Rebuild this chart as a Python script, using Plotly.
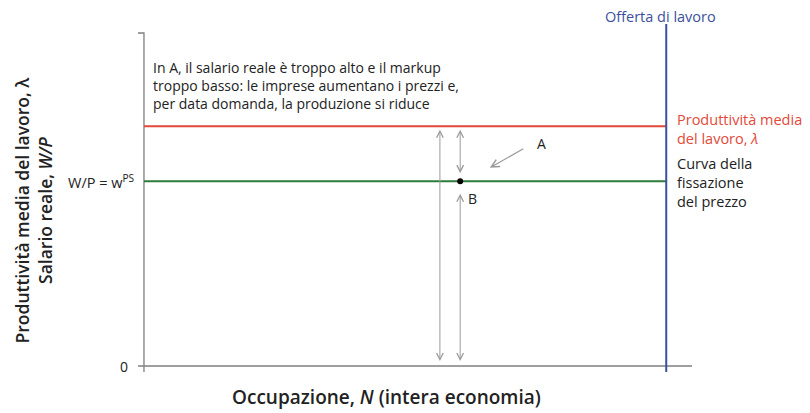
import plotly.graph_objects as go

# Livelli (unità arbitrarie del grafico)
lambda_level = 7.2      # produttività media del lavoro
wps_level = 5.55        # salario reale di fissazione del prezzo
labour_supply = 9.53    # offerta di lavoro (verticale)
n_top = 10.27           # estremo superiore della retta di offerta
y_axis_top = 10.0
x_axis_end = 10.0

# Punto B e frecce
point_b = (5.77, wps_level)
arrow_long_x = 5.40
arrow_a_tail = (6.95, 6.55)
arrow_a_tip = (6.31, 5.95)

RED = "#e2493a"
GREEN = "#2e7b3c"
BLUE = "#3b4f9e"
GREY = "#9a9a9a"
AXIS = "#7f7f7f"
FONT = "Open Sans"

fig = go.Figure()

# assi disegnati come linee
fig.add_trace(go.Scatter(x=[0, 0, -0.11], y=[-0.18, y_axis_top, y_axis_top], mode="lines",
                         line=dict(color=AXIS, width=1.3), hoverinfo="skip"))
fig.add_trace(go.Scatter(x=[-0.11, x_axis_end], y=[0, 0], mode="lines",
                         line=dict(color=AXIS, width=1.3), hoverinfo="skip"))

# curve
fig.add_trace(go.Scatter(x=[0, labour_supply], y=[lambda_level, lambda_level], mode="lines",
                         line=dict(color=RED, width=2), hoverinfo="skip"))
fig.add_trace(go.Scatter(x=[0, labour_supply], y=[wps_level, wps_level], mode="lines",
                         line=dict(color=GREEN, width=2), hoverinfo="skip"))
fig.add_trace(go.Scatter(x=[labour_supply, labour_supply], y=[-0.18, n_top], mode="lines",
                         line=dict(color=BLUE, width=2), hoverinfo="skip"))
fig.add_trace(go.Scatter(x=[point_b[0]], y=[point_b[1]], mode="markers",
                         marker=dict(color="black", size=6), hoverinfo="skip"))

annotations = []


def double_arrow(x, y0, y1, s0, s1):
    annotations.append(dict(x=x, y=y0, ax=x, ay=y1, xref="x", yref="y", axref="x", ayref="y",
                            text="", showarrow=True, arrowhead=5, arrowside="end+start",
                            arrowsize=1.3, arrowwidth=1, arrowcolor=GREY,
                            standoff=s0, startstandoff=s1))


double_arrow(arrow_long_x, 0, lambda_level, 5, 2)
double_arrow(point_b[0], wps_level, lambda_level, 8, 2)
double_arrow(point_b[0], 0, wps_level, 5, 11)

annotations.append(dict(x=arrow_a_tip[0], y=arrow_a_tip[1], ax=arrow_a_tail[0], ay=arrow_a_tail[1],
                        xref="x", yref="y", axref="x", ayref="y", text="", showarrow=True,
                        arrowhead=5, arrowsize=1.3, arrowwidth=1.2, arrowcolor=GREY))

base = dict(showarrow=False, xref="x", yref="y")
annotations += [
    dict(base, x=7.26, y=6.67, text="A", font=dict(family=FONT, size=14, color="#222")),
    dict(base, x=6.0, y=5.04, text="B", font=dict(family=FONT, size=14, color="#222")),
    dict(base, x=0.12, y=9.3, xanchor="left", yanchor="top", align="left",
         text="In A, il salario reale è troppo alto e il markup<br>"
              "troppo basso: le imprese aumentano i prezzi e,<br>"
              "per data domanda, la produzione si riduce",
         font=dict(family=FONT, size=14, color="#222")),
    dict(base, x=9.43, y=10.5, text="Offerta di lavoro",
         font=dict(family=FONT, size=14.5, color=BLUE)),
    dict(base, x=9.69, y=7.75, xanchor="left", yanchor="top", align="left",
         text="Produttività media<br>del lavoro, <i>λ</i>",
         font=dict(family=FONT, size=14.5, color=RED)),
    dict(base, x=9.69, y=6.43, xanchor="left", yanchor="top", align="left",
         text="Curva della<br>fissazione<br>del prezzo",
         font=dict(family=FONT, size=14.5, color="#222")),
    dict(base, x=-0.12, y=wps_level, xanchor="right", text="W/P = w<sup>PS</sup>",
         font=dict(family=FONT, size=14.5, color="#222")),
    dict(base, x=-0.2, y=0, xanchor="right", xshift=-3, text="0",
         font=dict(family=FONT, size=14, color="#222")),
    dict(showarrow=False, xref="x", yref="paper", x=4.42, y=-0.052, yanchor="middle",
         text="Occupazione, <i>N</i> (intera economia)",
         font=dict(family=FONT, size=19, color="#222", weight=600)),
    dict(showarrow=False, xref="paper", yref="paper", x=-0.169, y=0.457, textangle=-90,
         xanchor="center", yanchor="middle",
         text="Produttività media del lavoro, λ<br>Salario reale, <i>W/P</i>",
         font=dict(family=FONT, size=17.5, color="#222", weight=600)),
]

# la pagina aggiunge 8px di margine: figura 802x405
fig.update_layout(
    width=802, height=405,
    margin=dict(l=122, r=110, t=2, b=35),
    plot_bgcolor="white", paper_bgcolor="white",
    showlegend=False,
    xaxis=dict(range=[-0.255, 10.146], visible=False),
    yaxis=dict(range=[-0.36, 10.69], visible=False),
    annotations=annotations,
)

fig.write_html("out.html")
